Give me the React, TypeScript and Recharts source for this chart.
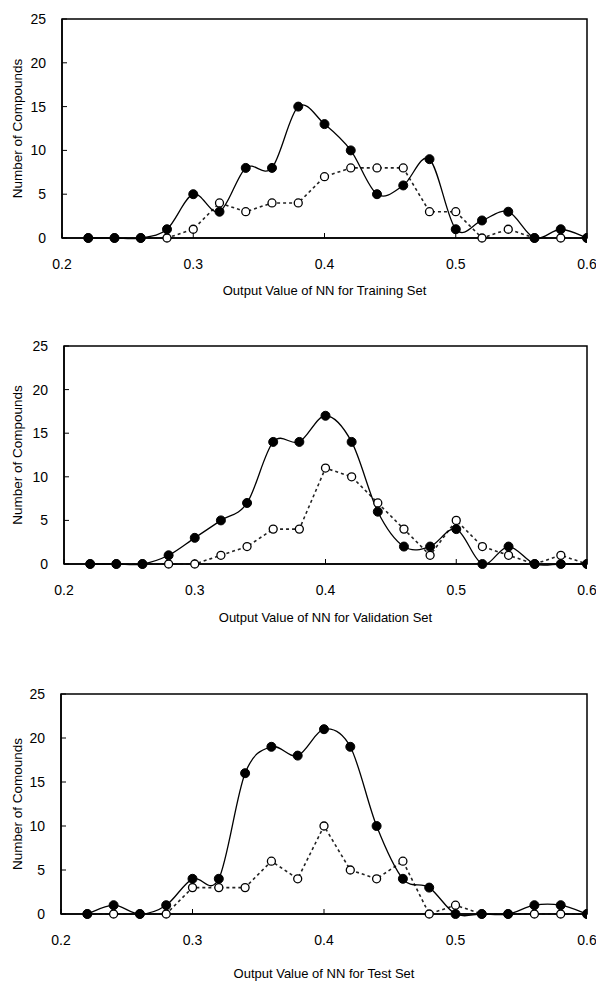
import React from 'react';
import { LineChart, Line, XAxis, YAxis, ReferenceArea } from 'recharts';

const outputValues = [0.22, 0.24, 0.26, 0.28, 0.3, 0.32, 0.34, 0.36, 0.38, 0.4, 0.42, 0.44, 0.46, 0.48, 0.5, 0.52, 0.54, 0.56, 0.58, 0.6];

const trainingFilled = [0, 0, 0, 1, 5, 3, 8, 8, 15, 13, 10, 5, 6, 9, 1, 2, 3, 0, 1, 0];
const trainingOpen = [0, 0, 0, 0, 1, 4, 3, 4, 4, 7, 8, 8, 8, 3, 3, 0, 1, 0, 0, 0];

const validationFilled = [0, 0, 0, 1, 3, 5, 7, 14, 14, 17, 14, 6, 2, 2, 4, 0, 2, 0, 0, 0];
const validationOpen = [0, 0, 0, 0, 0, 1, 2, 4, 4, 11, 10, 7, 4, 1, 5, 2, 1, 0, 1, 0];

const testFilled = [0, 1, 0, 1, 4, 4, 16, 19, 18, 21, 19, 10, 4, 3, 0, 0, 0, 1, 1, 0];
const testOpen = [0, 0, 0, 0, 3, 3, 3, 6, 4, 10, 5, 4, 6, 0, 1, 0, 0, 0, 0, 0];

const xTicks = [0.2, 0.3, 0.4, 0.5, 0.6];
const yTicks = [0, 5, 10, 15, 20, 25];

const FONT = '"Liberation Sans", Arial, sans-serif';

// excel-like smoothed line (catmull-rom through the points)
const smoothCurve = (context: any) => {
  let pts: number[][] = [];
  return {
    areaStart() {},
    areaEnd() {},
    lineStart() {
      pts = [];
    },
    point(x: number, y: number) {
      pts.push([+x, +y]);
    },
    lineEnd() {
      if (!pts.length) return;
      context.moveTo(pts[0][0], pts[0][1]);
      for (let i = 0; i < pts.length - 1; i++) {
        const p0 = pts[i - 1] || pts[i];
        const p1 = pts[i];
        const p2 = pts[i + 1];
        const p3 = pts[i + 2] || p2;
        context.bezierCurveTo(
          p1[0] + (p2[0] - p0[0]) / 6,
          p1[1] + (p2[1] - p0[1]) / 6,
          p2[0] - (p3[0] - p1[0]) / 6,
          p2[1] - (p3[1] - p1[1]) / 6,
          p2[0],
          p2[1]
        );
      }
    },
  };
};

const XTitle = ({ viewBox, text, dy }: any) => (
  <text
    x={viewBox.x + viewBox.width / 2}
    y={viewBox.y + dy}
    textAnchor="middle"
    dominantBaseline="central"
    fontSize={13}
    fontFamily={FONT}
    fill="#000"
  >
    {text}
  </text>
);

const YTitle = ({ viewBox, text }: any) => {
  const cx = 17;
  const cy = viewBox.y + viewBox.height / 2;
  return (
    <text
      x={cx}
      y={cy}
      transform={`rotate(-90 ${cx} ${cy})`}
      textAnchor="middle"
      dominantBaseline="central"
      fontSize={13.5}
      fontFamily={FONT}
      fill="#000"
    >
      {text}
    </text>
  );
};

interface PanelProps {
  filled: number[];
  open: number[];
  title: string;
  yTitle: string;
  top: number;
  plotHeight: number;
  axisWidth: number;
  titleDy: number;
}

const Panel: React.FC<PanelProps> = ({ filled, open, title, yTitle, top, plotHeight, axisWidth, titleDy }) => {
  const data = outputValues.map((x, i) => ({ x, filled: filled[i], open: open[i] }));
  const xAxisHeight = titleDy + 16;
  return (
    <div style={{ position: 'absolute', left: 0, top: top - 19 }}>
      <LineChart
        width={596}
        height={19 + plotHeight + xAxisHeight}
        data={data}
        margin={{ top: 19, right: 9, left: 0, bottom: 0 }}
      >
        <XAxis
          dataKey="x"
          type="number"
          domain={[0.2, 0.6]}
          ticks={xTicks}
          tickFormatter={(v: number) => v.toFixed(1)}
          allowDataOverflow
          height={xAxisHeight}
          stroke="#000"
          axisLine={{ stroke: '#000', strokeWidth: 1.5 }}
          tickLine={{ stroke: '#000' }}
          tickSize={-5}
          tickMargin={26}
          tick={{ fill: '#000', fontSize: 14, fontFamily: FONT }}
          label={<XTitle text={title} dy={titleDy} />}
        />
        <YAxis
          type="number"
          domain={[0, 25]}
          ticks={yTicks}
          width={axisWidth}
          stroke="#000"
          axisLine={{ stroke: '#000', strokeWidth: 1.5 }}
          tickLine={{ stroke: '#000' }}
          tickSize={-5}
          tickMargin={21}
          tick={{ fill: '#000', fontSize: 14, fontFamily: FONT }}
          label={<YTitle text={yTitle} />}
        />
        <ReferenceArea x1={0.2} x2={0.6} y1={0} y2={25} fill="none" stroke="#000" strokeWidth={1.5} />
        <Line
          dataKey="open"
          type="linear"
          stroke="#222"
          strokeWidth={1.6}
          strokeDasharray="3 3"
          dot={{ r: 4, fill: '#fff', stroke: '#000', strokeWidth: 1.3, strokeDasharray: '' }}
          isAnimationActive={false}
        />
        <Line
          dataKey="filled"
          type={smoothCurve as any}
          stroke="#000"
          strokeWidth={1.3}
          dot={{ r: 4.5, fill: '#000', stroke: '#000', strokeWidth: 1 }}
          isAnimationActive={false}
        />
      </LineChart>
    </div>
  );
};

export default function App() {
  return (
    <div style={{ position: 'absolute', left: 0, top: 0, width: 596, height: 990, background: '#fff' }}>
      <Panel
        filled={trainingFilled}
        open={trainingOpen}
        title="Output Value of NN for Training Set"
        yTitle="Number of Compounds"
        top={19}
        plotHeight={219}
        axisWidth={62}
        titleDy={52}
      />
      <Panel
        filled={validationFilled}
        open={validationOpen}
        title="Output Value of NN for Validation Set"
        yTitle="Number of Compounds"
        top={346}
        plotHeight={218}
        axisWidth={64}
        titleDy={53}
      />
      <Panel
        filled={testFilled}
        open={testOpen}
        title="Output Value of NN for Test Set"
        yTitle="Number of Comounds"
        top={694}
        plotHeight={220}
        axisWidth={61}
        titleDy={59}
      />
    </div>
  );
}
